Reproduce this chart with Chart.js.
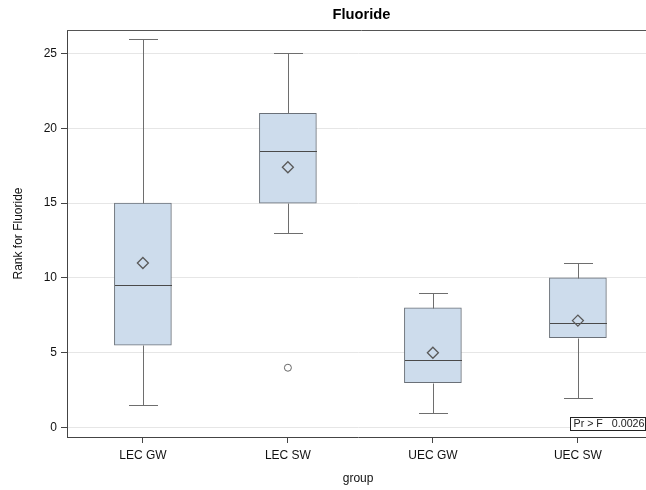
<!DOCTYPE html>
<html>
<head>
<meta charset="utf-8">
<title>Fluoride</title>
<script src="https://cdn.jsdelivr.net/npm/chart.js@4/dist/chart.umd.min.js"></script>
<style>
  html, body { margin: 0; padding: 0; background: #fff; overflow: hidden; }
  #wrap { width: 646px; height: 490px; overflow: hidden; }
</style>
</head>
<body>
<div id="wrap"><canvas id="box" width="656" height="490"></canvas></div>
<script>
// rank statistics per group
const groups = ['LEC GW', 'LEC SW', 'UEC GW', 'UEC SW'];
const whiskerLow = [1.5, 13, 1, 2];
const q1 = [5.5, 15, 3, 6];
const median = [9.5, 18.5, 4.5, 7];
const q3 = [15, 21, 8, 10];
const whiskerHigh = [26, 25, 9, 11];
const means = [11, 17.4, 5, 7.15];
const outlierGroup = ['LEC SW'];
const outlierValue = [4];
const yTicks = [0, 5, 10, 15, 20, 25];
const pValue = '0.0026';

const FONT = "'Liberation Sans', Arial, sans-serif";
const BOX_W = 57;
const CAP_W = 29;

const boxParts = {
  id: 'boxParts',
  afterDatasetDraw(chart, args) {
    if (args.index !== 0) return;
    const { ctx } = chart;
    const xs = chart.scales.x, ys = chart.scales.y;
    const px = v => Math.round(ys.getPixelForValue(v)) + 0.5;
    ctx.save();
    ctx.lineWidth = 1;
    groups.forEach((g, i) => {
      const cx = Math.round(xs.getPixelForValue(i + 1)) + 0.5;
      ctx.strokeStyle = '#6e6e6e';
      ctx.beginPath();
      ctx.moveTo(cx, px(q3[i])); ctx.lineTo(cx, px(whiskerHigh[i]));
      ctx.moveTo(cx, px(q1[i])); ctx.lineTo(cx, px(whiskerLow[i]));
      ctx.moveTo(cx - CAP_W / 2, px(whiskerHigh[i])); ctx.lineTo(cx + CAP_W / 2, px(whiskerHigh[i]));
      ctx.moveTo(cx - CAP_W / 2, px(whiskerLow[i])); ctx.lineTo(cx + CAP_W / 2, px(whiskerLow[i]));
      ctx.stroke();
      ctx.strokeStyle = '#4a4a4a';
      ctx.beginPath();
      ctx.moveTo(cx - BOX_W / 2, px(median[i])); ctx.lineTo(cx + BOX_W / 2, px(median[i]));
      ctx.stroke();
    });
    ctx.restore();
  },
  afterDraw(chart) {
    const { ctx, chartArea: a } = chart;
    ctx.save();
    // frame top
    ctx.strokeStyle = '#555';
    ctx.lineWidth = 1;
    ctx.beginPath();
    ctx.moveTo(a.left, a.top + 0.5); ctx.lineTo(chart.width, a.top + 0.5);
    ctx.stroke();
    // title, centred over the full plot frame
    ctx.fillStyle = '#000';
    ctx.font = 'bold 14.7px ' + FONT;
    ctx.textAlign = 'center';
    ctx.textBaseline = 'middle';
    ctx.fillText('Fluoride', (a.left + chart.width) / 2, 15);
    // ANOVA inset
    const bx = 570.5, by = a.bottom - 19.5, bw = 75, bh = 13;
    ctx.fillStyle = '#fff';
    ctx.fillRect(bx, by, bw, bh);
    ctx.strokeStyle = '#222';
    ctx.strokeRect(bx, by, bw, bh);
    ctx.fillStyle = '#222';
    ctx.font = '10.7px ' + FONT;
    ctx.textAlign = 'left';
    ctx.fillText('Pr > F', bx + 3, by + bh / 2 + 0.5);
    ctx.textAlign = 'right';
    ctx.fillText(pValue, bx + bw - 1, by + bh / 2 + 0.5);
    ctx.restore();
  }
};

new Chart(document.getElementById('box'), {
  type: 'bar',
  data: {
    datasets: [
      {
        type: 'bar',
        data: groups.map((g, i) => ({ x: i + 1, y: [q1[i], q3[i]] })),
        backgroundColor: '#cddcec',
        borderColor: '#6a7078',
        borderWidth: 1,
        borderSkipped: false,
        barThickness: BOX_W,
        order: 2
      },
      {
        type: 'scatter',
        data: groups.map((g, i) => ({ x: i + 1, y: means[i] })),
        pointStyle: 'rectRot',
        pointRadius: 5.5,
        pointBorderWidth: 1.3,
        pointBorderColor: '#5a5a5a',
        pointBackgroundColor: 'rgba(0,0,0,0)',
        order: 1
      },
      {
        type: 'scatter',
        data: outlierGroup.map((g, i) => ({ x: groups.indexOf(g) + 1, y: outlierValue[i] })),
        pointStyle: 'circle',
        pointRadius: 3.5,
        pointBorderWidth: 1,
        pointBorderColor: '#666',
        pointBackgroundColor: 'rgba(0,0,0,0)',
        order: 1
      }
    ]
  },
  options: {
    responsive: false,
    devicePixelRatio: 1,
    animation: false,
    layout: { padding: { top: 30, left: 0, right: 0, bottom: 0 } },
    plugins: { legend: { display: false }, tooltip: { enabled: false }, title: { display: false } },
    scales: {
      x: {
        type: 'linear',
        min: 0.4766,
        max: 4.4918,
        offset: false,
        afterFit: s => { s.height = 53; },
        afterBuildTicks: s => { s.ticks = groups.map((g, i) => ({ value: i + 1 })); },
        ticks: {
          callback: v => groups[v - 1],
          color: '#111',
          font: { family: FONT, size: 12 },
          padding: 5,
          maxRotation: 0,
          autoSkip: false
        },
        grid: { drawOnChartArea: false, tickLength: 6, tickColor: '#444', offset: false },
        border: { color: '#444', width: 1 },
        title: { display: true, text: 'group', color: '#111', font: { family: FONT, size: 12 }, padding: { top: 0, bottom: 4 } }
      },
      y: {
        min: -0.63,
        max: 26.57,
        afterFit: s => { s.width = 67; },
        afterBuildTicks: s => { s.ticks = yTicks.map(v => ({ value: v })); },
        ticks: { color: '#111', font: { family: FONT, size: 12 }, padding: 4 },
        grid: { color: '#e6e6e6', tickLength: 6, tickColor: '#444' },
        border: { color: '#444', width: 1 },
        title: { display: true, text: 'Rank for Fluoride', color: '#111', font: { family: FONT, size: 12 }, padding: { top: 11, bottom: 0 } }
      }
    }
  },
  plugins: [boxParts]
});
</script>
</body>
</html>
